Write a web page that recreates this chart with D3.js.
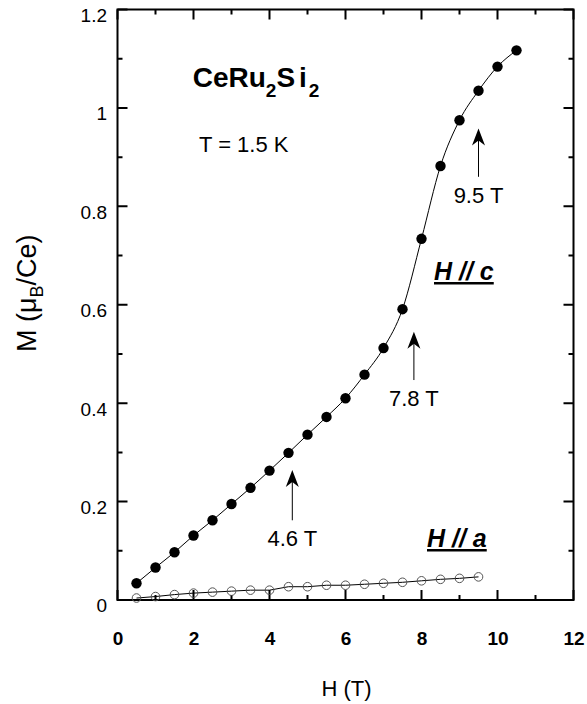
<!DOCTYPE html>
<html>
<head>
<meta charset="utf-8">
<script src="https://cdn.jsdelivr.net/npm/d3@7"></script>
<style>
  body { margin: 0; background: #fff; }
  svg { font-family: "Liberation Sans", Arial, Helvetica, sans-serif; }
</style>
</head>
<body>
<svg id="chart" width="587" height="704"></svg>
<script>
// field (T) steps shared by both measurements
var fieldC = [0.5, 1, 1.5, 2, 2.5, 3, 3.5, 4, 4.5, 5, 5.5, 6, 6.5, 7, 7.5, 8, 8.5, 9, 9.5, 10, 10.5]
var momentC = [0.034, 0.066, 0.097, 0.131, 0.162, 0.195, 0.228, 0.263, 0.299, 0.336, 0.372, 0.410, 0.458, 0.512, 0.591, 0.734, 0.882, 0.975, 1.035, 1.084, 1.117]

var fieldA = [0.5, 1, 1.5, 2, 2.5, 3, 3.5, 4, 4.5, 5, 5.5, 6, 6.5, 7, 7.5, 8, 8.5, 9, 9.5]
var momentA = [0.004, 0.007, 0.011, 0.014, 0.016, 0.018, 0.020, 0.020, 0.027, 0.027, 0.030, 0.030, 0.032, 0.034, 0.036, 0.039, 0.042, 0.044, 0.047]

// arrows marking the metamagnetic features
var arrowField = [4.6, 7.8, 9.5]
var arrowBase = [0.162, 0.447, 0.860]
var arrowTip = [0.264, 0.545, 0.958]
var arrowLabel = ['4.6 T', '7.8 T', '9.5 T']

var xMajor = [0, 2, 4, 6, 8, 10, 12]
var xMinor = [1, 3, 5, 7, 9, 11]
var yMajor = [0, 0.2, 0.4, 0.6, 0.8, 1, 1.2]
var yMinor = [0.1, 0.3, 0.5, 0.7, 0.9, 1.1]

var svg = d3.select('#chart')
var m = {left: 117.5, top: 9.5}
var width = 456, height = 590.5

var g = svg.append('g').attr('transform', `translate(${m.left},${m.top})`)

var x = d3.scaleLinear().domain([0, 12]).range([0, width])
var y = d3.scaleLinear().domain([0, 1.2]).range([height, 0])

// tick labels from d3 axes, tick marks drawn inward on all four sides below
g.append('g')
  .attr('transform', `translate(0,${height})`)
  .call(d3.axisBottom(x).tickValues(xMajor).tickSize(0).tickPadding(31.5).tickFormat(d3.format('d')))
  .call(a => a.select('.domain').remove())
  .selectAll('text').attr('font-size', 19).attr('font-weight', 'bold').attr('fill', '#000')

g.append('g')
  .call(d3.axisLeft(y).tickValues(yMajor).tickSize(0).tickPadding(10.5).tickFormat(d => d))
  .call(a => a.select('.domain').remove())
  .selectAll('text').attr('font-size', 19).attr('fill', '#000').attr('dy', '0.63em')

var ticks = []
xMajor.forEach(v => ticks.push(`M${x(v)},${height}v-10M${x(v)},0v10`))
xMinor.forEach(v => ticks.push(`M${x(v)},${height}v-5M${x(v)},0v5`))
yMajor.forEach(v => ticks.push(`M0,${y(v)}h10M${width},${y(v)}h-10`))
yMinor.forEach(v => ticks.push(`M0,${y(v)}h5M${width},${y(v)}h-5`))

g.append('path')
  .attr('d', ticks.join(''))
  .attr('fill', 'none').attr('stroke', '#000').attr('stroke-width', 2)

g.append('rect')
  .attr('width', width).attr('height', height)
  .attr('fill', 'none').attr('stroke', '#000').attr('stroke-width', 2)

var dataC = fieldC.map((h, i) => ({h, m: momentC[i]}))
var dataA = fieldA.map((h, i) => ({h, m: momentA[i]}))

var lineGen = d3.line().x(d => x(d.h)).y(d => y(d.m))

// H // c
g.append('path')
  .attr('d', lineGen.curve(d3.curveMonotoneX)(dataC))
  .attr('fill', 'none').attr('stroke', '#000').attr('stroke-width', 1)

g.append('g').selectAll('circle').data(dataC).join('circle')
  .attr('cx', d => x(d.h)).attr('cy', d => y(d.m)).attr('r', 5.2)
  .attr('fill', '#000')

// H // a
g.append('path')
  .attr('d', lineGen.curve(d3.curveLinear)(dataA))
  .attr('fill', 'none').attr('stroke', '#000').attr('stroke-width', 1)

g.append('g').selectAll('circle').data(dataA).join('circle')
  .attr('cx', d => x(d.h)).attr('cy', d => y(d.m)).attr('r', 4.3)
  .attr('fill', 'none').attr('stroke', '#555').attr('stroke-width', 1)

// arrows with labels
arrowField.forEach((h, i) => {
  var ax = x(h), y0 = y(arrowBase[i]), y1 = y(arrowTip[i])
  g.append('path')
    .attr('d', `M${ax},${y0}V${y1 + 10}`)
    .attr('stroke', '#000').attr('stroke-width', 1)
  g.append('path')
    .attr('d', 'M0,0L-6.5,17L0,12L6.5,17Z')
    .attr('transform', `translate(${ax},${y1})`)
    .attr('fill', '#000')
  g.append('text')
    .attr('x', ax).attr('y', y0 + 26)
    .attr('text-anchor', 'middle')
    .attr('font-size', 22)
    .text(arrowLabel[i])
})

// titles and annotations
var title = svg.append('text')
  .attr('x', 192.7).attr('y', 87)
  .attr('font-size', 28).attr('font-weight', 'bold')
title.append('tspan').text('CeRu')
title.append('tspan').attr('font-size', 19).attr('dy', 10).text('2')
title.append('tspan').attr('dy', -10).text('S')
title.append('tspan').attr('dx', 4).text('i')
title.append('tspan').attr('font-size', 19).attr('dx', 2).attr('dy', 10).text('2')

svg.append('text')
  .attr('x', 199).attr('y', 152)
  .attr('font-size', 22)
  .text('T = 1.5 K')

svg.append('text')
  .attr('x', 434).attr('y', 280)
  .attr('font-size', 25).attr('font-weight', 'bold').attr('font-style', 'italic')
  .attr('text-decoration', 'underline')
  .text('H // c')

svg.append('text')
  .attr('x', 427).attr('y', 547)
  .attr('font-size', 25).attr('font-weight', 'bold').attr('font-style', 'italic')
  .attr('text-decoration', 'underline')
  .text('H // a')

svg.append('text')
  .attr('x', 346.5).attr('y', 696)
  .attr('text-anchor', 'middle')
  .attr('font-size', 22)
  .text('H (T)')

var ylab = svg.append('text')
  .attr('transform', 'translate(36,352) rotate(-90)')
  .attr('font-size', 27)
ylab.append('tspan').text('M (μ')
ylab.append('tspan').attr('font-size', 18).attr('dy', 7).text('B')
ylab.append('tspan').attr('dy', -7).text('/Ce)')
</script>
</body>
</html>
